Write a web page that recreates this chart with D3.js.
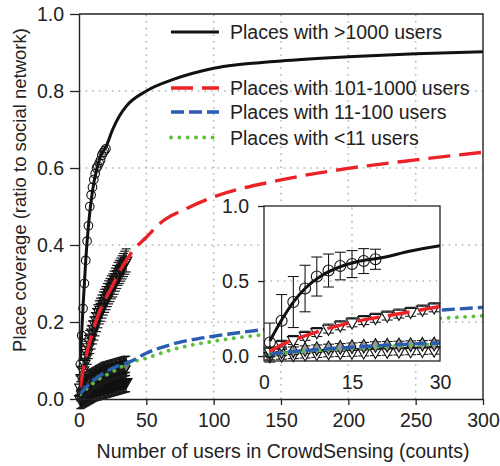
<!DOCTYPE html>
<html>
<head>
<meta charset="utf-8">
<script src="https://cdn.jsdelivr.net/npm/d3@7"></script>
<style>
body { margin: 0; background: #fff; }
text { font-family: "Liberation Sans", Arial, sans-serif; fill: #222; }
</style>
</head>
<body>
<svg id="chart" width="500" height="466"></svg>
<script>
// Axis ticks
var xTicks = [0, 50, 100, 150, 200, 250, 300];
var yTicks = [0, 0.2, 0.4, 0.6, 0.8, 1.0];
var insetXTicks = [0, 15, 30];
var insetYTicks = [0, 0.5, 1.0];

var legendLabels = ["Places with >1000 users", "Places with 101-1000 users",
                    "Places with 11-100 users", "Places with <11 users"];

// Fitted curves (x in users, y = coverage)
var fitBigX = [1, 3, 5, 7, 10, 13, 16, 20, 25, 30, 35, 50, 70, 100, 150, 200, 250, 300];
var fitBigY = [0.10, 0.24, 0.36, 0.45, 0.54, 0.595, 0.63, 0.655, 0.70, 0.735, 0.76, 0.80, 0.83, 0.859, 0.878, 0.889, 0.897, 0.902];
var fitMidX = [1, 3, 5, 10, 15, 20, 25, 30, 40, 50, 60, 80, 100, 150, 200, 250, 300];
var fitMidY = [0.03, 0.075, 0.107, 0.173, 0.225, 0.262, 0.295, 0.33, 0.385, 0.42, 0.456, 0.495, 0.525, 0.569, 0.599, 0.621, 0.641];
var fitLowX = [1, 5, 13, 25, 38, 50, 72, 100, 134, 150, 200, 250, 270, 300];
var fitLowY = [0.013, 0.03, 0.054, 0.08, 0.097, 0.119, 0.145, 0.163, 0.179, 0.186, 0.207, 0.225, 0.231, 0.238];
var fitTinyX = [1, 12, 25, 37, 50, 68, 100, 134, 150, 200, 250, 270, 300];
var fitTinyY = [0.012, 0.045, 0.071, 0.093, 0.106, 0.127, 0.15, 0.166, 0.172, 0.19, 0.205, 0.21, 0.216];

// Measured points
var bigX = [1, 2, 3, 4, 5, 6, 7, 8, 9, 10, 11, 12, 13, 14, 15, 16, 17, 18, 19, 20];
var bigY = [0.09, 0.165, 0.235, 0.30, 0.36, 0.41, 0.45, 0.50, 0.53, 0.55, 0.57, 0.585, 0.60, 0.605, 0.613, 0.62, 0.633, 0.64, 0.645, 0.65];
var bigErr = [0.13, 0.15, 0.175, 0.17, 0.17, 0.16, 0.155, 0.14, 0.13, 0.12, 0.11, 0.10, 0.092, 0.09, 0.09, 0.085, 0.083, 0.075, 0.067, 0.065];

var smallX = [1, 2, 3, 4, 5, 6, 7, 8, 9, 10, 11, 12, 13, 14, 15, 16, 17, 18, 19, 20, 21, 22, 23, 24, 25, 26, 27, 28, 29, 30, 31, 32, 33, 34, 35];
var midY = [0.03, 0.055, 0.075, 0.092, 0.107, 0.12, 0.135, 0.148, 0.16, 0.173, 0.183, 0.194, 0.205, 0.215, 0.225, 0.232, 0.24, 0.248, 0.255, 0.262, 0.27, 0.277, 0.283, 0.29, 0.295, 0.302, 0.31, 0.317, 0.325, 0.33, 0.336, 0.342, 0.348, 0.354, 0.36];
var lowY = [0.02, 0.024, 0.028, 0.032, 0.036, 0.04, 0.043, 0.046, 0.049, 0.052, 0.054, 0.056, 0.058, 0.06, 0.062, 0.064, 0.066, 0.068, 0.07, 0.071, 0.072, 0.073, 0.074, 0.075, 0.076, 0.077, 0.078, 0.079, 0.08, 0.081, 0.082, 0.083, 0.084, 0.085, 0.086];
var tinyY = [0.0, 0.002, 0.004, 0.006, 0.008, 0.01, 0.012, 0.014, 0.016, 0.018, 0.02, 0.021, 0.022, 0.023, 0.024, 0.025, 0.026, 0.027, 0.028, 0.029, 0.03, 0.031, 0.032, 0.033, 0.034, 0.035, 0.036, 0.037, 0.038, 0.039, 0.04, 0.041, 0.042, 0.043, 0.044];
var smallErr = [0.03, 0.025];   // red group, lower groups

var colors = { big: "#111", mid: "#ec2229", low: "#2a5db0", tiny: "#5cbf3a" };

var svg = d3.select("#chart");

// Main scales
var x = d3.scaleLinear().domain([0, 300]).range([79, 483]);
var y = d3.scaleLinear().domain([0, 1]).range([399, 14]);
// Inset scales
var ix = d3.scaleLinear().domain([0, 30]).range([264, 440]);
var iy = d3.scaleLinear().domain([-0.033, 1]).range([361, 206]);

function pairs(xs, ys) { return xs.map(function(d, i) { return [d, ys[i]]; }); }

function drawGrid(g, sx, sy, gx, gy)
{
    var r = sx.range(), q = sy.range();
    g.selectAll("line.gx").data(gx).join("line")
        .attr("x1", function(d) { return sx(d); }).attr("x2", function(d) { return sx(d); })
        .attr("y1", q[0]).attr("y2", q[1]);
    g.selectAll("line.gy").data(gy).join("line").attr("class", "gy")
        .attr("x1", r[0]).attr("x2", r[1])
        .attr("y1", function(d) { return sy(d); }).attr("y2", function(d) { return sy(d); });
    g.selectAll("line").attr("stroke", "#b5b5b5").attr("stroke-width", 1.6)
        .attr("stroke-dasharray", "1.6,5");
}

function drawErr(g, data, sx, sy, err, cap, sw)
{
    var eg = g.append("g").attr("stroke", "#1a1a1a").attr("stroke-width", sw || 1.1).attr("fill", "none");
    data.forEach(function(d, i) {
        var e = Array.isArray(err) ? err[d[2]] : err;
        var cx = sx(d[0]), y0 = sy(d[1] - e), y1 = sy(d[1] + e);
        eg.append("line").attr("x1", cx).attr("x2", cx).attr("y1", y0).attr("y2", y1);
        eg.append("line").attr("x1", cx - cap).attr("x2", cx + cap).attr("y1", y0).attr("y2", y0);
        eg.append("line").attr("x1", cx - cap).attr("x2", cx + cap).attr("y1", y1).attr("y2", y1);
    });
}

function drawSymbols(g, data, sx, sy, type, size, fill, rot, sw)
{
    g.append("g").selectAll("path").data(data).join("path")
        .attr("d", d3.symbol().type(type).size(size))
        .attr("transform", function(d) { return "translate(" + sx(d[0]) + "," + sy(d[1]) + ") rotate(" + rot + ")"; })
        .attr("fill", fill).attr("stroke", "#111").attr("stroke-width", sw || 1.1);
}

function drawCircles(g, data, sx, sy, r)
{
    g.append("g").selectAll("circle").data(data).join("circle")
        .attr("cx", function(d) { return sx(d[0]); })
        .attr("cy", function(d) { return sy(d[1]); })
        .attr("r", r).attr("fill", "none").attr("stroke", "#111").attr("stroke-width", 1.1);
}

var styles = [
    { key: "big",  xs: fitBigX,  ys: fitBigY,  dash: null,      w: 3 },
    { key: "mid",  xs: fitMidX,  ys: fitMidY,  dash: "22,9",    w: 3.4 },
    { key: "low",  xs: fitLowX,  ys: fitLowY,  dash: "13,5",    w: 3.4 },
    { key: "tiny", xs: fitTinyX, ys: fitTinyY, dash: "0.1,8.2", w: 3.8 }
];

function drawFits(g, sx, sy, clipId)
{
    var line = d3.line().x(function(d) { return sx(d[0]); }).y(function(d) { return sy(d[1]); })
        .curve(d3.curveMonotoneX);
    var lg = g.append("g").attr("clip-path", "url(#" + clipId + ")");
    // draw lower curves first so the black one stays on top
    styles.slice().reverse().forEach(function(s) {
        lg.append("path").datum(pairs(s.xs, s.ys)).attr("d", line)
            .attr("fill", "none").attr("stroke", colors[s.key]).attr("stroke-width", s.w)
            .attr("stroke-dasharray", s.dash).attr("stroke-linecap", s.key == "tiny" ? "round" : "butt");
    });
}

var defs = svg.append("defs");
defs.append("clipPath").attr("id", "clipMain").append("rect")
    .attr("x", 79).attr("y", 14).attr("width", 404).attr("height", 385);
defs.append("clipPath").attr("id", "clipInset").append("rect")
    .attr("x", 264).attr("y", 206).attr("width", 176).attr("height", 155);

// ---- main panel ----
drawGrid(svg.append("g"), x, y, xTicks.slice(1, -1), yTicks.slice(1, -1));

var idx = function(xs, ys) { return xs.map(function(d, i) { return [d, ys[i], i]; }); };
var mainMarks = svg.append("g");
drawErr(mainMarks, idx(smallX, tinyY), x, y, smallErr[1], 4, 1.4);
drawSymbols(mainMarks, idx(smallX, tinyY), x, y, d3.symbolTriangle, 55, "none", 180, 1.4);
drawErr(mainMarks, idx(smallX, lowY), x, y, smallErr[1], 4, 1.4);
drawSymbols(mainMarks, idx(smallX, lowY), x, y, d3.symbolDiamond, 50, "#777", 0, 1.4);
drawErr(mainMarks, idx(smallX, midY), x, y, smallErr[0], 4.5, 1.2);
drawSymbols(mainMarks, idx(smallX, midY), x, y, d3.symbolTriangle, 55, "none", 180, 1.2);
drawCircles(mainMarks, idx(bigX, bigY), x, y, 4.3);

drawFits(svg, x, y, "clipMain");

// axes
var axisX = svg.append("g").attr("transform", "translate(0,399)")
    .call(d3.axisBottom(x).tickValues(xTicks).tickSize(6).tickPadding(8).tickSizeOuter(0));
var axisY = svg.append("g").attr("transform", "translate(79,0)")
    .call(d3.axisLeft(y).tickValues(yTicks).tickSize(9).tickPadding(6).tickSizeOuter(0)
        .tickFormat(d3.format(".1f")));
[axisX, axisY].forEach(function(a) {
    a.select(".domain").attr("stroke", "#222").attr("stroke-width", 1.4);
    a.selectAll(".tick line").attr("stroke", "#222").attr("stroke-width", 1.3);
    a.selectAll("text").attr("font-size", 19.5).attr("fill", "#222")
        .attr("font-family", "'Liberation Sans', Arial, sans-serif");
});
// frame top/right
svg.append("path").attr("d", "M79,14H483V399").attr("fill", "none")
    .attr("stroke", "#222").attr("stroke-width", 1.4);

svg.append("text").attr("x", 283).attr("y", 458).attr("text-anchor", "middle")
    .attr("font-size", 19.5).text("Number of users in CrowdSensing (counts)");
svg.append("text").attr("transform", "translate(26,190) rotate(-90)").attr("text-anchor", "middle")
    .attr("font-size", 18.5).text("Place coverage (ratio to social network)");

// legend
var legY = [32, 88, 112, 137.5];
var leg = svg.append("g");
styles.forEach(function(s, i) {
    leg.append("line").attr("x1", 171).attr("x2", 219).attr("y1", legY[i]).attr("y2", legY[i])
        .attr("stroke", colors[s.key]).attr("stroke-width", s.w)
        .attr("stroke-dasharray", s.dash).attr("stroke-linecap", s.key == "tiny" ? "round" : "butt");
    leg.append("text").attr("x", 230).attr("y", legY[i]).attr("dy", "0.36em")
        .attr("font-size", 19.5).text(legendLabels[i]);
});

// ---- inset ----
var inset = svg.append("g");
inset.append("rect").attr("x", 264).attr("y", 206).attr("width", 176).attr("height", 155).attr("fill", "#fff");
drawGrid(inset.append("g"), ix, iy, [15], [0.5]);

var odd = function(d) { return d[0] % 2 == 1 && d[0] <= 30; };
var im = inset.append("g");
drawErr(im, idx(smallX, tinyY).filter(odd), ix, iy, smallErr[1], 5.5);
drawSymbols(im, idx(smallX, tinyY).filter(odd), ix, iy, d3.symbolTriangle, 60, "#fff", 180);
drawErr(im, idx(smallX, lowY).filter(odd), ix, iy, smallErr[1], 5.5);
drawSymbols(im, idx(smallX, lowY).filter(odd), ix, iy, d3.symbolDiamond, 55, "#999", 0);
drawErr(im, idx(smallX, midY).filter(odd), ix, iy, smallErr[0], 5.5);
drawSymbols(im, idx(smallX, midY).filter(odd), ix, iy, d3.symbolTriangle, 60, "#fff", 180);
drawErr(im, idx(bigX, bigY).filter(odd), ix, iy, bigErr, 5.5);
drawCircles(im, idx(bigX, bigY).filter(odd), ix, iy, 5.5);

drawFits(inset, ix, iy, "clipInset");

inset.append("rect").attr("x", 264).attr("y", 206).attr("width", 176).attr("height", 155)
    .attr("fill", "none").attr("stroke", "#222").attr("stroke-width", 1.3);
var iax = inset.append("g").attr("transform", "translate(0,361)")
    .call(d3.axisBottom(ix).tickValues(insetXTicks).tickSize(0).tickPadding(14));
var iay = inset.append("g").attr("transform", "translate(264,0)")
    .call(d3.axisLeft(iy).tickValues(insetYTicks).tickSize(6).tickPadding(9)
        .tickFormat(d3.format(".1f")));
[iax, iay].forEach(function(a) {
    a.select(".domain").remove();
    a.selectAll(".tick line").attr("stroke", "#222").attr("stroke-width", 1.3);
    a.selectAll("text").attr("font-size", 19.5).attr("fill", "#222")
        .attr("font-family", "'Liberation Sans', Arial, sans-serif");
});
</script>
</body>
</html>
